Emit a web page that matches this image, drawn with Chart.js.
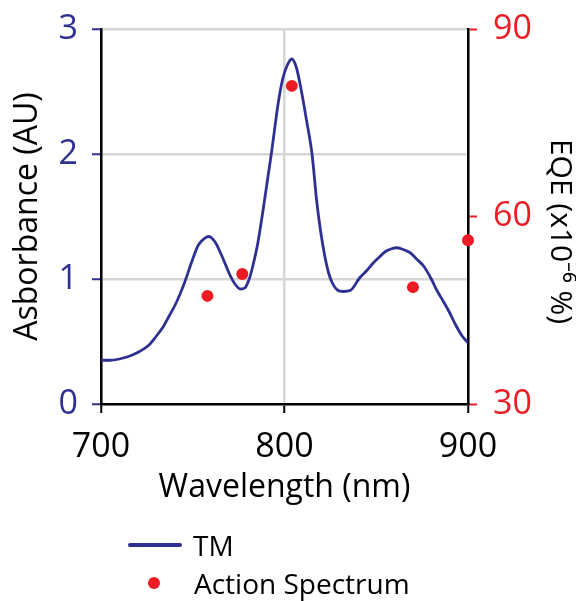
<!DOCTYPE html>
<html>
<head>
<meta charset="utf-8">
<script src="https://cdn.jsdelivr.net/npm/chart.js@4/dist/chart.umd.min.js"></script>
<style>
  html, body { margin: 0; padding: 0; background: #fff; }
  #wrap { position: relative; width: 576px; height: 601px; overflow: hidden; }
  #c { position: absolute; left: 0; top: 0; }
  .leg { position: absolute; font-family: "Open Sans", sans-serif; font-size: 28px; color: #000; line-height: 1; white-space: nowrap; }
  .legline { position: absolute; background: #2e3192; border-radius: 2px; }
  .legdot { position: absolute; background: #ed1c24; border-radius: 50%; }
</style>
</head>
<body>
<div id="wrap">
  <canvas id="c" width="576" height="601"></canvas>
  <div class="legline" style="left:128px; top:543px; width:54px; height:4px;"></div>
  <div class="leg" style="left:193px; top:531px;">TM</div>
  <div class="legdot" style="left:148px; top:577px; width:12px; height:12px;"></div>
  <div class="leg" style="left:194px; top:569px;">Action Spectrum</div>
</div>
<script>
// Absorbance spectrum (TM)
const wavelengths = [700,705,710,715,721,726,730,734,737,741,745,750,753,756,758.5,762,766,770,773,776,778.5,781,783,785.5,788,791,793,796.5,799,801.5,804,806.5,809,812,815,817.5,819.5,822,824,826,829,832,836,841,845,848.5,852,855,858,861,864,868.5,872,876,880,883,887,890,893,897,900];
const absorbance = [0.35,0.35,0.36,0.38,0.42,0.47,0.54,0.62,0.70,0.81,0.95,1.16,1.27,1.32,1.34,1.30,1.18,1.04,0.96,0.92,0.93,1.01,1.12,1.29,1.52,1.82,2.02,2.40,2.60,2.71,2.76,2.69,2.52,2.27,2.00,1.63,1.40,1.18,1.05,0.97,0.91,0.90,0.91,1.01,1.07,1.13,1.18,1.22,1.24,1.25,1.24,1.21,1.16,1.10,1.00,0.91,0.81,0.73,0.64,0.54,0.49];
// Action spectrum (EQE, x10^-6 %)
const actionWavelengths = [758, 777, 804, 870, 900];
const actionEQE = [47.3, 50.8, 80.9, 48.7, 56.2];
// Tick values
const xTicks = [700, 800, 900];
const leftTicks = [0, 1, 2, 3];
const rightTicks = [30, 60, 90];

const NAVY = '#2e3192';
const RED = '#ed1c24';
const GRID = '#d6d6d6';
const FONT = '"Open Sans", sans-serif';

const lineData = wavelengths.map((w, i) => ({x: w, y: absorbance[i]}));
const dotData = actionWavelengths.map((w, i) => ({x: w, y: actionEQE[i]}));

new Chart(document.getElementById('c'), {
  type: 'scatter',
  data: {
    datasets: [
      {
        label: 'TM', type: 'line', data: lineData, yAxisID: 'y',
        borderColor: NAVY, borderWidth: 2.8, pointRadius: 0, fill: false,
        cubicInterpolationMode: 'monotone', order: 2
      },
      {
        label: 'Action Spectrum', data: dotData, yAxisID: 'y1',
        backgroundColor: RED, borderColor: RED, pointRadius: 6, borderWidth: 0,
        clip: false, order: 1
      }
    ]
  },
  options: {
    responsive: false, animation: false, events: [],
    layout: { padding: { top: 29, left: 0, right: 0, bottom: 0 } },
    plugins: { legend: { display: false }, tooltip: { enabled: false } },
    scales: {
      x: {
        type: 'linear', position: 'bottom', min: 700, max: 900,
        afterBuildTicks: (s) => { s.ticks = xTicks.map(v => ({value: v})); },
        afterFit: (s) => { s.height = 197; s.paddingLeft = 0; s.paddingRight = 0; },
        ticks: { color: '#000', font: { family: FONT, size: 34 }, padding: 14, maxRotation: 0 },
        grid: { color: GRID, lineWidth: 2.5, tickColor: '#000', tickLength: 9, tickWidth: 2 },
        border: { color: '#000', width: 2.5 },
        title: { display: true, text: 'Wavelength (nm)', color: '#000',
                 font: { family: FONT, size: 32, lineHeight: 1 }, padding: { top: 0, bottom: 97 } }
      },
      y: {
        type: 'linear', position: 'left', min: 0, max: 3,
        afterBuildTicks: (s) => { s.ticks = leftTicks.map(v => ({value: v})); },
        afterFit: (s) => { s.width = 101; s.paddingTop = 0; s.paddingBottom = 0; },
        ticks: { color: NAVY, font: { family: FONT, size: 34 }, padding: 14 },
        grid: { color: GRID, lineWidth: 2.5, tickColor: NAVY, tickLength: 9, tickWidth: 2 },
        border: { color: '#000', width: 2.5 },
        title: { display: true, text: 'Asborbance (AU)', color: '#000',
                 font: { family: FONT, size: 32, lineHeight: 1 }, padding: { top: 12, bottom: 0 } }
      },
      y1: {
        type: 'linear', position: 'right', min: 30, max: 90,
        afterBuildTicks: (s) => { s.ticks = rightTicks.map(v => ({value: v})); },
        afterFit: (s) => { s.width = 108; s.paddingTop = 0; s.paddingBottom = 0; },
        ticks: { color: RED, font: { family: FONT, size: 34 }, padding: 16 },
        grid: { drawOnChartArea: false, tickColor: RED, tickLength: 9, tickWidth: 2 },
        border: { color: '#000', width: 2.5 },
        title: { display: true, text: '\u2003EQE (x10\u207B\u2076 %)', color: '#000',
                 font: { family: FONT, size: 30, lineHeight: 1 }, padding: { top: 1, bottom: 0 } }
      }
    }
  }
});
</script>
</body>
</html>
